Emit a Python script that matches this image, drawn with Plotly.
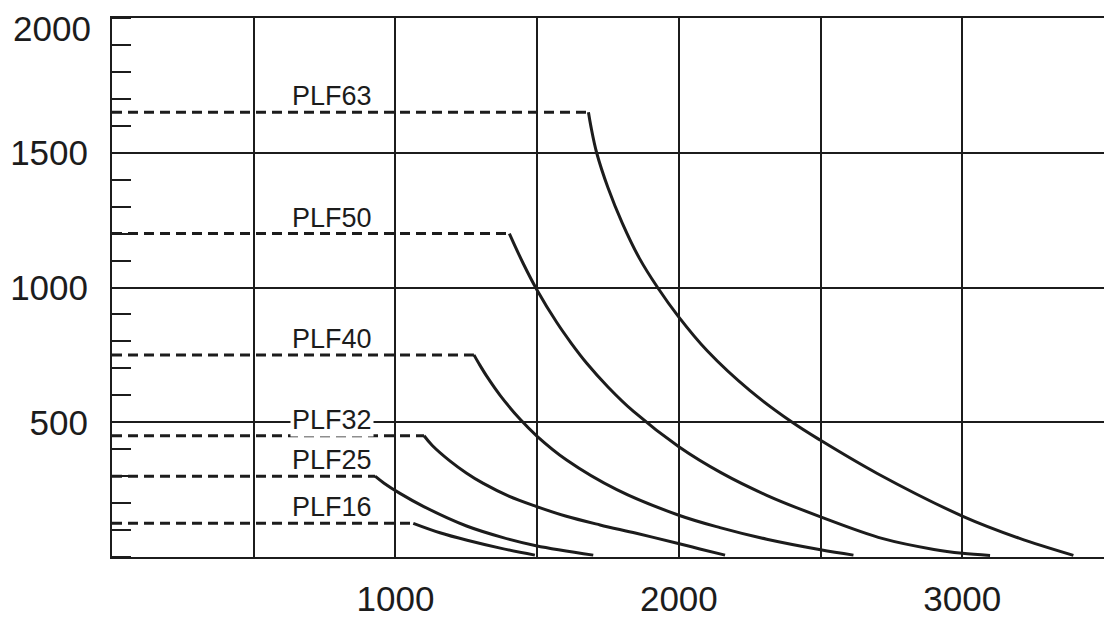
import plotly.graph_objects as go

# Kennlinien (x = Drehzahl, y = Last)
names = ["PLF63", "PLF50", "PLF40", "PLF32", "PLF25", "PLF16"]
levels = [1650, 1200, 750, 450, 300, 125]

plf63_x = [1681, 1690, 1710, 1750, 1800, 1860, 1925, 2000, 2100, 2250, 2400,
           2500, 2700, 3000, 3200, 3392]
plf63_y = [1650, 1596, 1500, 1370, 1240, 1110, 1000, 890, 765, 618, 500,
           433, 310, 152, 70, 6]
plf50_x = [1402, 1450, 1500, 1570, 1620, 1675, 1750, 1840, 2000, 2150, 2310,
           2500, 2720, 2900, 3000, 3098]
plf50_y = [1200, 1091, 990, 869, 794, 719, 631, 540, 409, 312, 229,
           149, 68, 28, 14, 6]
plf40_x = [1277, 1295, 1322, 1370, 1440, 1500, 1604, 1781, 2000, 2145, 2310,
           2500, 2616]
plf40_y = [750, 717, 671, 599, 511, 448, 360, 250, 155, 109, 66, 27, 7]
plf32_x = [1101, 1130, 1193, 1250, 1310, 1400, 1496, 1600, 1722, 1850, 1998,
           2074, 2163]
plf32_y = [450, 414, 356, 312, 273, 226, 188, 152, 119, 88, 50, 30, 7]
plf25_x = [928, 960, 1016, 1100, 1251, 1380, 1496, 1698]
plf25_y = [300, 274, 236, 187, 115, 72, 42, 7]
plf16_x = [1063, 1157, 1253, 1370, 1492]
plf16_y = [125, 90, 62, 33, 7]

curves_x = [plf63_x, plf50_x, plf40_x, plf32_x, plf25_x, plf16_x]
curves_y = [plf63_y, plf50_y, plf40_y, plf32_y, plf25_y, plf16_y]

x_ticks = [1000, 2000, 3000]
y_ticks = [500, 1000, 1500]
y_top_label = "2000"

INK = "#1c1c1c"
FONT = "Liberation Sans, Arial, Helvetica, sans-serif"

fig = go.Figure()

for name, lvl, cx, cy in zip(names, levels, curves_x, curves_y):
    # gestrichelte Linie bis zum Kurvenanfang
    fig.add_trace(go.Scatter(
        x=[0, cx[0]], y=[lvl, lvl], mode="lines",
        line=dict(color=INK, width=3, dash="10px,6px"),
        showlegend=False, hoverinfo="skip"
    ))
    fig.add_trace(go.Scatter(
        x=cx, y=cy, mode="lines", name=name,
        line=dict(color=INK, width=3, shape="spline", smoothing=1),
        showlegend=False
    ))
    # nur PLF32 unterbricht die 500er Gitterlinie
    fig.add_annotation(
        x=628, y=lvl, xref="x", yref="y", text=name,
        xanchor="left", yanchor="bottom", yshift=-1,
        showarrow=False, borderpad=1,
        bgcolor="white" if name == "PLF32" else "rgba(0,0,0,0)",
        font=dict(family=FONT, size=27, color=INK)
    )

# oberste Achsenbeschriftung als Annotation, sonst abgeschnitten
fig.add_annotation(
    x=0, y=1, xref="paper", yref="paper", text=y_top_label,
    xanchor="right", yanchor="top", xshift=-20, yshift=10, borderpad=0,
    showarrow=False, font=dict(family=FONT, size=35, color=INK)
)

fig.update_xaxes(
    range=[0, 3500], tickvals=x_ticks, ticks="",
    showgrid=True, gridcolor=INK, gridwidth=2,
    minor=dict(dtick=500, tick0=0, showgrid=True, gridcolor=INK, gridwidth=2),
    showline=True, mirror=True, linecolor=INK, linewidth=2,
    zeroline=False, ticklabelstandoff=10, automargin=False,
    ticklabeloverflow="allow",
    tickfont=dict(family=FONT, size=35, color=INK)
)
fig.update_yaxes(
    range=[0, 2000], tickvals=y_ticks, ticks="",
    showgrid=True, gridcolor=INK, gridwidth=2,
    minor=dict(dtick=100, tick0=0, ticks="inside", ticklen=19,
               tickwidth=2, tickcolor=INK, showgrid=False),
    showline=True, mirror=True, linecolor=INK, linewidth=2,
    zeroline=False, ticklabelstandoff=15, automargin=False,
    ticklabeloverflow="allow",
    tickfont=dict(family=FONT, size=35, color=INK)
)

# Seite hat 8px Rand im Browser, daher etwas kleiner
fig.update_layout(
    width=1104, height=620,
    margin=dict(l=104, r=8, t=10, b=71),
    plot_bgcolor="white", paper_bgcolor="white",
    showlegend=False
)

fig.write_html("out.html")
